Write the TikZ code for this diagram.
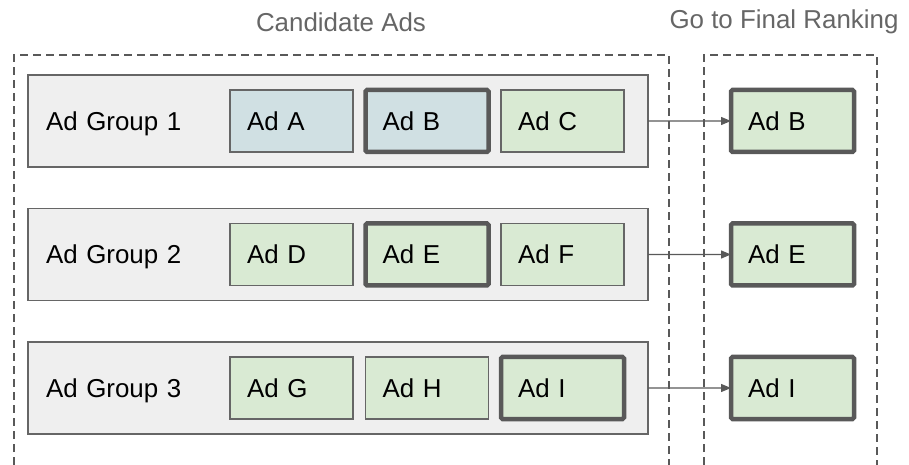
\documentclass[tikz,border=0pt]{standalone}
\usepackage{fontspec}
\setmainfont{Liberation Sans}
\usetikzlibrary{arrows.meta}
\definecolor{boxline}{HTML}{666666}
\definecolor{darkline}{HTML}{595959}
\definecolor{groupfill}{HTML}{EFEFEF}
\definecolor{bluefill}{HTML}{D0E0E3}
\definecolor{greenfill}{HTML}{D9EAD3}
\begin{document}
\begin{tikzpicture}[x=1bp, y=-1bp, font=\fontsize{26}{31}\selectfont,
  group/.style={draw=boxline, line width=1.3bp, fill=groupfill, anchor=north west, outer sep=0pt,
    minimum width=620bp, minimum height=92bp, inner xsep=18bp, text width=584bp, align=left,
    text height=18.6bp, text depth=0bp},
  adbox/.style={draw=boxline, line width=1.3bp, anchor=north west, outer sep=0pt,
    minimum width=123bp, minimum height=62bp, inner xsep=17bp, text width=89bp, align=left,
    text height=18.6bp, text depth=0bp},
  picked/.style={adbox, draw=darkline, line width=4.5bp, rounded corners=1.5bp},
  frame/.style={draw=darkline, line width=1.3bp, dash pattern=on 8bp off 5bp},
  head/.style={text=boxline},
  link/.style={draw=darkline, line width=1.3bp, -{Triangle[length=10bp, width=8bp]}}]
\useasboundingbox (0,0) rectangle (909,465);

% column headings
\node[head] (cand) at (341,22) {Candidate Ads};
\node[head] (final) at (784,22) {Go to Final Ranking};

% dashed columns, open at the bottom
\draw[frame] (14,465) -- (14,55) -- (669,55) -- (669,465);
\draw[frame] (704,465) -- (704,55) -- (877,55) -- (877,465);

% ad groups
\node[group] (G1) at (28,75) {Ad Group 1};
\node[group] (G2) at (28,208.5) {Ad Group 2};
\node[group] (G3) at (28,342) {Ad Group 3};

% ads inside each group
\node[adbox, fill=bluefill] (A) at (230,90) {Ad A};
\node[picked, fill=bluefill] (B) at (365.5,90) {Ad B};
\node[adbox, fill=greenfill] (C) at (501,90) {Ad C};

\node[adbox, fill=greenfill] (D) at (230,223.5) {Ad D};
\node[picked, fill=greenfill] (E) at (365.5,223.5) {Ad E};
\node[adbox, fill=greenfill] (F) at (501,223.5) {Ad F};

\node[adbox, fill=greenfill] (G) at (230,357) {Ad G};
\node[adbox, fill=greenfill] (H) at (365.5,357) {Ad H};
\node[picked, fill=greenfill] (I) at (501,357) {Ad I};

% winners
\node[picked, fill=greenfill] (FB) at (731,90) {Ad B};
\node[picked, fill=greenfill] (FE) at (731,223.5) {Ad E};
\node[picked, fill=greenfill] (FI) at (731,357) {Ad I};

\draw[link] (G1.east) -- (FB.west);
\draw[link] (G2.east) -- (FE.west);
\draw[link] (G3.east) -- (FI.west);
\end{tikzpicture}
\end{document}
